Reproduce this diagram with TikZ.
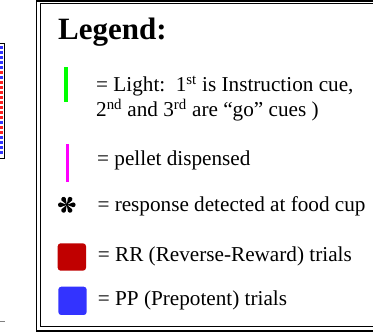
\documentclass[tikz,border=0pt]{standalone}
\usepackage{fontspec}
\setmainfont{Liberation Serif}
\definecolor{cuegreen}{HTML}{00FF00}
\definecolor{pelletpink}{HTML}{FF00FF}
\definecolor{rrred}{HTML}{C00000}
\definecolor{ppblue}{HTML}{3333FF}
\definecolor{dotred}{HTML}{FF2020}
\tikzset{
  legendtext/.style={anchor=base west, inner sep=0pt, font=\fontsize{21.2}{25}\selectfont},
  swatch/.style={rounded corners=3pt},
  spoke/.style={fill=black},
}
\begin{document}
\begin{tikzpicture}[x=1pt,y=-1pt]
\useasboundingbox (0,0) rectangle (373,334);
\fill[white] (0,0) rectangle (373,334);

% edge of the neighbouring raster panel
\begin{scope}
\clip (0,0) rectangle (6,334);
\foreach \y/\c in {46/ppblue,51/ppblue,56/ppblue,61/ppblue,66/ppblue,71/dotred,76/ppblue,81/dotred,86/dotred,91/dotred,
                   96/dotred,101/dotred,106/dotred,111/dotred,116/dotred,121/ppblue,126/dotred,131/dotred,136/ppblue,141/ppblue,146/ppblue,151/ppblue}
  \fill[\c] (0,\y) rectangle (3.2,\y+3);
\draw[line width=1pt] (-3,43.3) -- (4.3,43.3) -- (4.3,158.5) -- (-3,158.5);
\draw[gray, line width=0.8pt] (0,321) -- (5,321);
\end{scope}

% double frame of the legend
\draw[line width=1.7pt] (36.4,0.8) -- (380,0.8);
\draw[line width=1.7pt] (36.4,0) -- (36.4,331) -- (380,331);
\draw[line width=0.9pt] (40.4,3.6) -- (380,3.6);
\draw[line width=0.9pt] (40.4,3.6) -- (40.4,326.8) -- (380,326.8);

\node[anchor=base west, inner sep=0pt, font=\fontsize{31}{35}\selectfont\bfseries] (title) at (58,39.3) {Legend:};

% light cue
\fill[cuegreen] (64.3,66.7) rectangle (68,101.7);
\node[legendtext] (light1) at (96,91.7) {= Light:\ \ 1\textsuperscript{st} is Instruction cue,};
\node[legendtext] (light2) at (96,116.7) {2\textsuperscript{nd} and 3\textsuperscript{rd} are “go” cues )};

% pellet
\fill[pelletpink] (65.7,144) rectangle (69.3,181.7);
\node[legendtext] (pellet) at (97,165.6) {= pellet dispensed};

% response asterisk
\begin{scope}[shift={(66.8,204.8)}]
\foreach \a in {90,150,210,270,330,30}
  \fill[spoke,rotate=\a] (0,0) -- (-2.4,6.4) arc[start angle=180,end angle=0,radius=2.4] -- cycle;
\fill (0,0) circle (1.5);
\end{scope}
\node[legendtext] (response) at (97.3,212) {= response detected at food cup};

% trial type swatches
\fill[swatch, rrred] (57.7,243.3) rectangle (86,270.7);
\node[legendtext] (rr) at (97.7,262) {= RR (Reverse-Reward) trials};
\fill[swatch, ppblue] (58.3,286.7) rectangle (86.7,315);
\node[legendtext] (pp) at (97.7,306) {= PP (Prepotent) trials};
\end{tikzpicture}
\end{document}
